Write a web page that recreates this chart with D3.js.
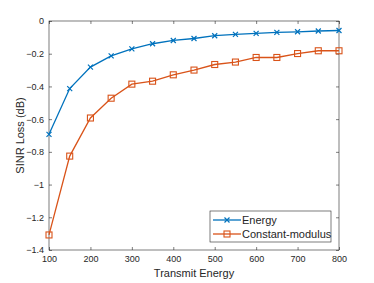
<!DOCTYPE html>
<html>
<head>
<meta charset="utf-8">
<script src="https://cdn.jsdelivr.net/npm/d3@7"></script>
<style>
  body { margin: 0; background: #fff; }
  text { font-family: "Liberation Sans", Arial, sans-serif; }
</style>
</head>
<body>
<svg id="chart" width="374" height="283"></svg>
<script>
// values
const energyX = [100, 150, 200, 250, 300, 350, 400, 450, 500, 550, 600, 650, 700, 750, 800];
const energyLoss = [-0.693, -0.413, -0.282, -0.213, -0.170, -0.139, -0.119, -0.107, -0.090, -0.082, -0.076, -0.070, -0.066, -0.061, -0.058];
const cmLoss = [-1.308, -0.826, -0.593, -0.472, -0.386, -0.368, -0.329, -0.300, -0.266, -0.251, -0.223, -0.223, -0.199, -0.182, -0.182];
const xTicks = [100, 200, 300, 400, 500, 600, 700, 800];
const yTicks = [0, -0.2, -0.4, -0.6, -0.8, -1, -1.2, -1.4];

const svg = d3.select('#chart');
const m = { left: 49, right: 35, top: 21, bottom: 33 };
const w = 374 - m.left - m.right, h = 283 - m.top - m.bottom;
const axisColor = '#262626';

const x = d3.scaleLinear().domain([100, 800]).range([0, w]);
const y = d3.scaleLinear().domain([-1.4, 0]).range([h, 0]);

const g = svg.append('g').attr('transform', 'translate(' + m.left + ',' + m.top + ')');

function styleAxis(sel, labels) {
    sel.select('.domain').remove();
    sel.selectAll('line').attr('stroke', axisColor).attr('stroke-width', 0.6);
    sel.selectAll('text').attr('fill', axisColor).style('font-size', '9px');
    if (!labels) sel.selectAll('text').remove();
}

g.append('g').attr('transform', 'translate(0,' + h + ')')
    .call(d3.axisBottom(x).tickValues(xTicks).tickSize(-3).tickPadding(6))
    .call(s => styleAxis(s, true));
g.append('g')
    .call(d3.axisTop(x).tickValues(xTicks).tickSize(-3))
    .call(s => styleAxis(s, false));
g.append('g')
    .call(d3.axisLeft(y).tickValues(yTicks).tickSize(-3).tickPadding(5).tickFormat(d => d3.format('')(+d.toFixed(1))))
    .call(s => styleAxis(s, true));
g.append('g').attr('transform', 'translate(' + w + ',0)')
    .call(d3.axisRight(y).tickValues(yTicks).tickSize(-3))
    .call(s => styleAxis(s, false));

g.append('rect').attr('width', w).attr('height', h)
    .attr('fill', 'none').attr('stroke', axisColor).attr('stroke-width', 0.6);

const line = d3.line().x(d => x(d[0])).y(d => y(d[1]));
const blue = '#0072BD', orange = '#D95319';

const eData = energyX.map((v, i) => [v, energyLoss[i]]);
const cData = energyX.map((v, i) => [v, cmLoss[i]]);

g.append('path').datum(eData).attr('d', line).attr('fill', 'none').attr('stroke', blue).attr('stroke-width', 1.3);
g.append('path').datum(cData).attr('d', line).attr('fill', 'none').attr('stroke', orange).attr('stroke-width', 1.3);

function cross(sel) {
    sel.append('path').attr('d', 'M-2.5,-2.5L2.5,2.5M-2.5,2.5L2.5,-2.5')
        .attr('stroke', blue).attr('stroke-width', 1.2).attr('fill', 'none');
}
function square(sel) {
    sel.append('rect').attr('x', -3).attr('y', -3).attr('width', 6).attr('height', 6)
        .attr('stroke', orange).attr('stroke-width', 1.1).attr('fill', 'none');
}

g.selectAll('.mx').data(eData).enter().append('g')
    .attr('transform', d => 'translate(' + [x(d[0]), y(d[1])] + ')').each(function () { cross(d3.select(this)); });
g.selectAll('.ms').data(cData).enter().append('g')
    .attr('transform', d => 'translate(' + [x(d[0]), y(d[1])] + ')').each(function () { square(d3.select(this)); });

// axis labels
svg.append('text').attr('x', m.left + w / 2).attr('y', 277).attr('text-anchor', 'middle')
    .attr('fill', axisColor).style('font-size', '11px').text('Transmit Energy');
svg.append('text').attr('transform', 'translate(24,' + (m.top + h / 2) + ') rotate(-90)')
    .attr('text-anchor', 'middle').attr('fill', axisColor).style('font-size', '11px').text('SINR Loss (dB)');

// legend
const lg = svg.append('g').attr('transform', 'translate(210,211)');
lg.append('rect').attr('width', 121).attr('height', 31).attr('fill', '#fff')
    .attr('stroke', axisColor).attr('stroke-width', 0.6);
const items = [['Energy', blue, cross], ['Constant-modulus', orange, square]];
items.forEach((it, i) => {
    const row = lg.append('g').attr('transform', 'translate(0,' + (9 + i * 14) + ')');
    row.append('line').attr('x1', 3).attr('x2', 31).attr('stroke', it[1]).attr('stroke-width', 1.3);
    it[2](row.append('g').attr('transform', 'translate(17,0)'));
    row.append('text').attr('x', 32).attr('y', 4).attr('fill', axisColor)
        .style('font-size', '11px').text(it[0]);
});
</script>
</body>
</html>
